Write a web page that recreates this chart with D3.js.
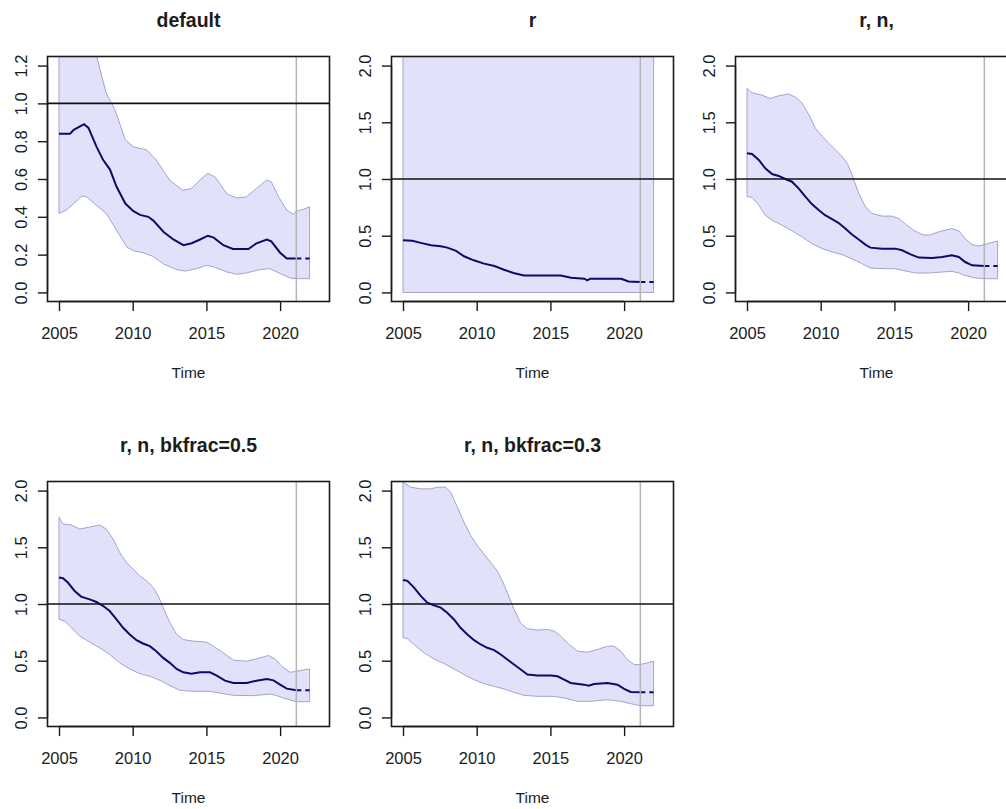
<!DOCTYPE html>
<html>
<head>
<meta charset="utf-8">
<script src="https://cdn.jsdelivr.net/npm/d3@7"></script>
<style>
  body { margin: 0; background: #fff; }
  text { font-family: "Liberation Sans", Arial, sans-serif; fill: #1c1c1c; }
</style>
</head>
<body>
<svg id="chart" width="1006" height="809"></svg>
<script>
// Relative biomass estimates (point estimate with lower / upper bounds) for five model runs.
const titles = ["default", "r", "r, n,", "r, n, bkfrac=0.5", "r, n, bkfrac=0.3"];
const xTicks = [2005, 2010, 2015, 2020];
const yTicksDefault = [0.0, 0.2, 0.4, 0.6, 0.8, 1.0, 1.2];
const yTicksOther = [0.0, 0.5, 1.0, 1.5, 2.0];
const lastObserved = 2021.1;
const refLevel = 1.0;

// --- default ---
const defaultMain = [[2005,0.84],[2005.75,0.84],[2006,0.86],[2006.7,0.89],[2007,0.87],[2007.55,0.77],[2008,0.70],[2008.46,0.65],[2008.9,0.56],[2009.5,0.47],[2010.05,0.43],[2010.5,0.41],[2011.06,0.40],[2011.4,0.38],[2012.1,0.32],[2012.76,0.28],[2013.44,0.25],[2014,0.26],[2014.57,0.28],[2015.1,0.30],[2015.5,0.29],[2016.15,0.25],[2016.8,0.23],[2017.85,0.23],[2018.4,0.26],[2019.1,0.28],[2019.4,0.27],[2020,0.21],[2020.45,0.18],[2021.1,0.18],[2022,0.18]];
const defaultUpper = [[2005,1.72],[2006,1.62],[2007,1.42],[2007.55,1.25],[2008.2,1.055],[2008.8,0.966],[2009.5,0.807],[2010.05,0.77],[2010.95,0.754],[2011.6,0.70],[2012.5,0.595],[2013.4,0.54],[2014,0.55],[2014.57,0.595],[2015.1,0.63],[2015.6,0.61],[2016.4,0.52],[2017.06,0.50],[2017.7,0.505],[2018.4,0.55],[2019.1,0.595],[2019.4,0.585],[2019.9,0.505],[2020.45,0.435],[2020.9,0.414],[2021.1,0.43],[2021.6,0.44],[2022,0.453]];
const defaultLower = [[2005,0.418],[2005.5,0.435],[2006,0.47],[2006.55,0.51],[2006.9,0.505],[2007.55,0.46],[2008.2,0.418],[2008.9,0.33],[2009.6,0.24],[2010.05,0.22],[2010.7,0.21],[2011.4,0.19],[2012.1,0.15],[2013,0.12],[2013.55,0.113],[2014.35,0.126],[2015,0.143],[2015.5,0.135],[2016.4,0.108],[2017.06,0.096],[2017.7,0.103],[2018.6,0.12],[2019.3,0.126],[2020,0.10],[2020.7,0.076],[2021.1,0.073],[2022,0.073]];

// --- r ---
const rMain = [[2005,0.46],[2005.63,0.455],[2006.2,0.437],[2006.9,0.416],[2007.56,0.407],[2008,0.395],[2008.6,0.366],[2009.14,0.319],[2009.8,0.283],[2010.5,0.254],[2011.2,0.233],[2011.85,0.20],[2012.5,0.171],[2013.2,0.15],[2014.1,0.15],[2015.7,0.15],[2016.4,0.13],[2017.3,0.121],[2017.5,0.106],[2017.7,0.121],[2019.8,0.121],[2020.3,0.097],[2021.1,0.091],[2022,0.091]];
const rUpper = [[2005,3.6],[2010,3.2],[2015,2.9],[2022,2.8]];
const rLower = [[2005,0.0],[2022,0.0]];

// --- r, n, ---
const rnMain = [[2005,1.227],[2005.34,1.221],[2005.8,1.168],[2006.24,1.094],[2006.7,1.044],[2007.15,1.027],[2007.6,1.0],[2008.05,0.976],[2008.5,0.917],[2008.96,0.844],[2009.4,0.779],[2009.86,0.726],[2010.3,0.681],[2010.77,0.646],[2011.2,0.614],[2011.67,0.563],[2012.1,0.513],[2012.58,0.466],[2013.03,0.422],[2013.37,0.395],[2014.16,0.386],[2015.07,0.386],[2015.52,0.372],[2016.1,0.336],[2016.65,0.307],[2017.56,0.304],[2018.24,0.313],[2018.9,0.327],[2019.37,0.313],[2019.8,0.268],[2020.27,0.239],[2021.1,0.233],[2022,0.233]];
const rnUpper = [[2005,1.80],[2005.34,1.76],[2006,1.74],[2006.58,1.71],[2007.04,1.73],[2007.83,1.75],[2008.3,1.72],[2008.73,1.67],[2009.2,1.566],[2009.64,1.448],[2010.1,1.375],[2010.54,1.316],[2011,1.257],[2011.45,1.198],[2011.8,1.139],[2012.13,1.035],[2012.58,0.873],[2013.03,0.755],[2013.48,0.696],[2014.16,0.673],[2014.84,0.673],[2015.3,0.652],[2015.75,0.602],[2016.3,0.549],[2016.88,0.51],[2017.33,0.504],[2018,0.534],[2018.9,0.563],[2019.37,0.543],[2019.8,0.475],[2020.27,0.422],[2020.72,0.41],[2021.1,0.422],[2022,0.454]];
const rnLower = [[2005,0.844],[2005.34,0.838],[2005.8,0.77],[2006.24,0.681],[2006.7,0.637],[2007.38,0.593],[2008.05,0.543],[2008.73,0.49],[2009.4,0.431],[2010.1,0.386],[2010.77,0.357],[2011.45,0.333],[2012.1,0.298],[2012.8,0.254],[2013.37,0.215],[2014.39,0.209],[2015.07,0.209],[2015.75,0.189],[2016.43,0.171],[2017.33,0.171],[2018.24,0.18],[2018.9,0.186],[2019.37,0.171],[2019.8,0.15],[2020.5,0.127],[2021.1,0.121],[2022,0.121]];

// --- r, n, bkfrac=0.5 ---
const bk05Main = [[2005,1.233],[2005.27,1.227],[2005.6,1.189],[2006.06,1.115],[2006.5,1.065],[2007.08,1.041],[2007.54,1.018],[2008,0.982],[2008.44,0.938],[2008.9,0.864],[2009.35,0.79],[2009.8,0.732],[2010.26,0.681],[2010.7,0.652],[2011.16,0.628],[2011.6,0.584],[2012.07,0.525],[2012.52,0.481],[2012.98,0.428],[2013.43,0.398],[2014,0.386],[2014.56,0.398],[2015.24,0.398],[2015.7,0.369],[2016.26,0.324],[2016.83,0.304],[2017.74,0.304],[2018.4,0.324],[2019.1,0.339],[2019.55,0.327],[2020,0.289],[2020.45,0.254],[2021.1,0.239],[2022,0.239]];
const bk05Upper = [[2005,1.764],[2005.27,1.705],[2005.84,1.696],[2006.4,1.661],[2007,1.676],[2007.76,1.696],[2008.2,1.661],[2008.67,1.572],[2009.12,1.454],[2009.58,1.366],[2010.03,1.307],[2010.48,1.248],[2010.94,1.204],[2011.4,1.145],[2011.73,1.071],[2012.07,0.968],[2012.52,0.835],[2012.98,0.732],[2013.43,0.687],[2014.1,0.673],[2015,0.664],[2015.47,0.628],[2016.15,0.569],[2016.83,0.504],[2017.74,0.496],[2018.64,0.525],[2019.2,0.546],[2019.66,0.516],[2020.1,0.451],[2020.68,0.398],[2021.1,0.407],[2022,0.428]];
const bk05Lower = [[2005,0.864],[2005.39,0.85],[2005.73,0.805],[2006.4,0.717],[2007.08,0.664],[2007.76,0.614],[2008.44,0.555],[2009.12,0.481],[2009.8,0.428],[2010.48,0.386],[2011.16,0.363],[2011.84,0.327],[2012.52,0.28],[2013.2,0.239],[2014.1,0.23],[2015.24,0.23],[2015.9,0.215],[2016.83,0.195],[2018.19,0.192],[2019.32,0.206],[2019.77,0.192],[2020.45,0.162],[2021.1,0.139],[2022,0.139]];

// --- r, n, bkfrac=0.3 ---
const bk03Main = [[2005,1.212],[2005.3,1.204],[2005.75,1.145],[2006.2,1.071],[2006.65,1.012],[2007.1,0.988],[2007.56,0.968],[2008,0.923],[2008.46,0.864],[2008.9,0.79],[2009.37,0.732],[2009.82,0.681],[2010.27,0.643],[2010.72,0.614],[2011.18,0.593],[2011.63,0.555],[2012.08,0.51],[2012.53,0.466],[2012.99,0.422],[2013.44,0.378],[2014.12,0.369],[2015.02,0.369],[2015.48,0.363],[2015.93,0.333],[2016.38,0.304],[2017.29,0.289],[2017.6,0.28],[2017.96,0.295],[2018.87,0.304],[2019.55,0.289],[2020,0.251],[2020.45,0.224],[2021.1,0.221],[2022,0.221]];
const bk03Upper = [[2005,2.074],[2005.52,2.03],[2006.2,2.015],[2006.88,2.015],[2007.33,2.03],[2007.9,2.03],[2008.24,1.985],[2008.69,1.853],[2009.14,1.72],[2009.6,1.602],[2010.05,1.513],[2010.5,1.44],[2010.95,1.366],[2011.4,1.292],[2011.74,1.204],[2012.08,1.10],[2012.53,0.953],[2012.99,0.829],[2013.44,0.782],[2014.12,0.77],[2014.8,0.776],[2015.25,0.761],[2015.7,0.717],[2016.27,0.643],[2016.83,0.584],[2017.51,0.575],[2018.19,0.599],[2018.87,0.628],[2019.32,0.628],[2019.77,0.584],[2020.23,0.51],[2020.68,0.466],[2021.1,0.466],[2022,0.496]];
const bk03Lower = [[2005,0.702],[2005.3,0.693],[2005.75,0.643],[2006.43,0.569],[2007.1,0.516],[2007.78,0.475],[2008.46,0.428],[2009.14,0.378],[2009.82,0.333],[2010.5,0.298],[2011.18,0.274],[2011.86,0.251],[2012.53,0.221],[2013.2,0.195],[2014.12,0.186],[2015.25,0.186],[2015.93,0.171],[2016.83,0.142],[2017.74,0.142],[2018.87,0.156],[2019.77,0.142],[2020.45,0.121],[2021.1,0.103],[2022,0.103]];

const panels = [
  { title: titles[0], yTicks: yTicksDefault, main: defaultMain, upper: defaultUpper, lower: defaultLower },
  { title: titles[1], yTicks: yTicksOther, main: rMain, upper: rUpper, lower: rLower },
  { title: titles[2], yTicks: yTicksOther, main: rnMain, upper: rnUpper, lower: rnLower },
  { title: titles[3], yTicks: yTicksOther, main: bk05Main, upper: bk05Upper, lower: bk05Lower },
  { title: titles[4], yTicks: yTicksOther, main: bk03Main, upper: bk03Upper, lower: bk03Lower }
];

// Grid of plot regions (3 columns, 2 rows)
const plotW = 282, plotH = 245;
const colLeft = [47.5, 391.5, 735.5];
const rowTop = [56.5, 481.5];
const xDomain = [2004.22, 2023.35];

const colors = {
  band: "#e1e1fa",
  bandEdge: "#a3a3cf",
  main: "#0b0b6e",
  ref: "#111",
  vline: "#b4b4b4",
  axis: "#1a1a1a"
};

const svg = d3.select("#chart");

panels.forEach((p, i) => {
  const col = i % 3, row = Math.floor(i / 3);
  const g = svg.append("g").attr("transform", `translate(${colLeft[col]},${rowTop[row]})`);

  const lo = d3.min(p.yTicks), hi = d3.max(p.yTicks), pad = (hi - lo) * 0.04;
  const x = d3.scaleLinear().domain(xDomain).range([0, plotW]);
  const y = d3.scaleLinear().domain([lo - pad, hi + pad]).range([plotH, 0]);

  const clipId = `clip-${i}`;
  g.append("clipPath").attr("id", clipId)
    .append("rect").attr("width", plotW).attr("height", plotH);
  const inner = g.append("g").attr("clip-path", `url(#${clipId})`);

  // confidence band: upper bound forward, lower bound back
  const ring = p.upper.concat(p.lower.slice().reverse());
  const bandPath = d3.line().x(d => x(d[0])).y(d => y(d[1]));
  inner.append("path")
    .attr("d", bandPath(ring) + "Z")
    .attr("fill", colors.band)
    .attr("stroke", colors.bandEdge)
    .attr("stroke-width", 1);

  // point estimate: solid up to the last observed year, dashed projection after
  const line = d3.line().x(d => x(d[0])).y(d => y(d[1]));
  const observed = p.main.filter(d => d[0] <= lastObserved);
  const projected = p.main.filter(d => d[0] >= lastObserved);
  inner.append("path").attr("d", line(observed))
    .attr("fill", "none").attr("stroke", colors.main).attr("stroke-width", 2);
  inner.append("path").attr("d", line(projected))
    .attr("fill", "none").attr("stroke", colors.main).attr("stroke-width", 2)
    .attr("stroke-dasharray", "5,4");

  // marker for the last observed year
  inner.append("line")
    .attr("x1", x(lastObserved)).attr("x2", x(lastObserved))
    .attr("y1", 0).attr("y2", plotH)
    .attr("stroke", colors.vline).attr("stroke-width", 1.5);

  // reference level
  inner.append("line")
    .attr("x1", 0).attr("x2", plotW)
    .attr("y1", y(refLevel)).attr("y2", y(refLevel))
    .attr("stroke", colors.ref).attr("stroke-width", 1.6);

  // frame
  g.append("rect").attr("width", plotW).attr("height", plotH)
    .attr("fill", "none").attr("stroke", colors.axis).attr("stroke-width", 1.6);

  // x axis
  const xAxis = d3.axisBottom(x).tickValues(xTicks).tickSize(9.6).tickPadding(0).tickFormat(d3.format("d"));
  const gx = g.append("g").attr("transform", `translate(0,${plotH})`).call(xAxis);
  gx.select(".domain").attr("stroke", colors.axis).attr("stroke-width", 1.4)
    .attr("d", `M${x(xTicks[0])},0H${x(xTicks[xTicks.length - 1])}`);
  gx.selectAll(".tick line").attr("stroke", colors.axis).attr("stroke-width", 1.4);
  gx.selectAll(".tick text")
    .attr("y", 37.5).attr("dy", null)
    .style("font-size", "16.5px").style("font-family", '"Liberation Sans", Arial, sans-serif')
    .attr("fill", "#1c1c1c");

  // y axis
  const yAxis = d3.axisLeft(y).tickValues(p.yTicks).tickSize(9.6).tickFormat(d3.format(".1f"));
  const gy = g.append("g").call(yAxis);
  gy.select(".domain").attr("stroke", colors.axis).attr("stroke-width", 1.4)
    .attr("d", `M0,${y(lo)}V${y(hi)}`);
  gy.selectAll(".tick line").attr("stroke", colors.axis).attr("stroke-width", 1.4);
  gy.selectAll(".tick text")
    .attr("x", null).attr("dy", null)
    .attr("transform", "translate(-20.5,0) rotate(-90)")
    .attr("text-anchor", "middle")
    .style("font-size", "16.5px").style("font-family", '"Liberation Sans", Arial, sans-serif')
    .attr("fill", "#1c1c1c");

  // title and axis label
  g.append("text")
    .attr("x", plotW / 2).attr("y", 27 - rowTop[0])
    .attr("text-anchor", "middle")
    .style("font-size", "19.5px").style("font-weight", "bold")
    .text(p.title);
  g.append("text")
    .attr("x", plotW / 2).attr("y", 377.5 - rowTop[0])
    .attr("text-anchor", "middle")
    .style("font-size", "15.5px")
    .text("Time");
});
</script>
</body>
</html>
